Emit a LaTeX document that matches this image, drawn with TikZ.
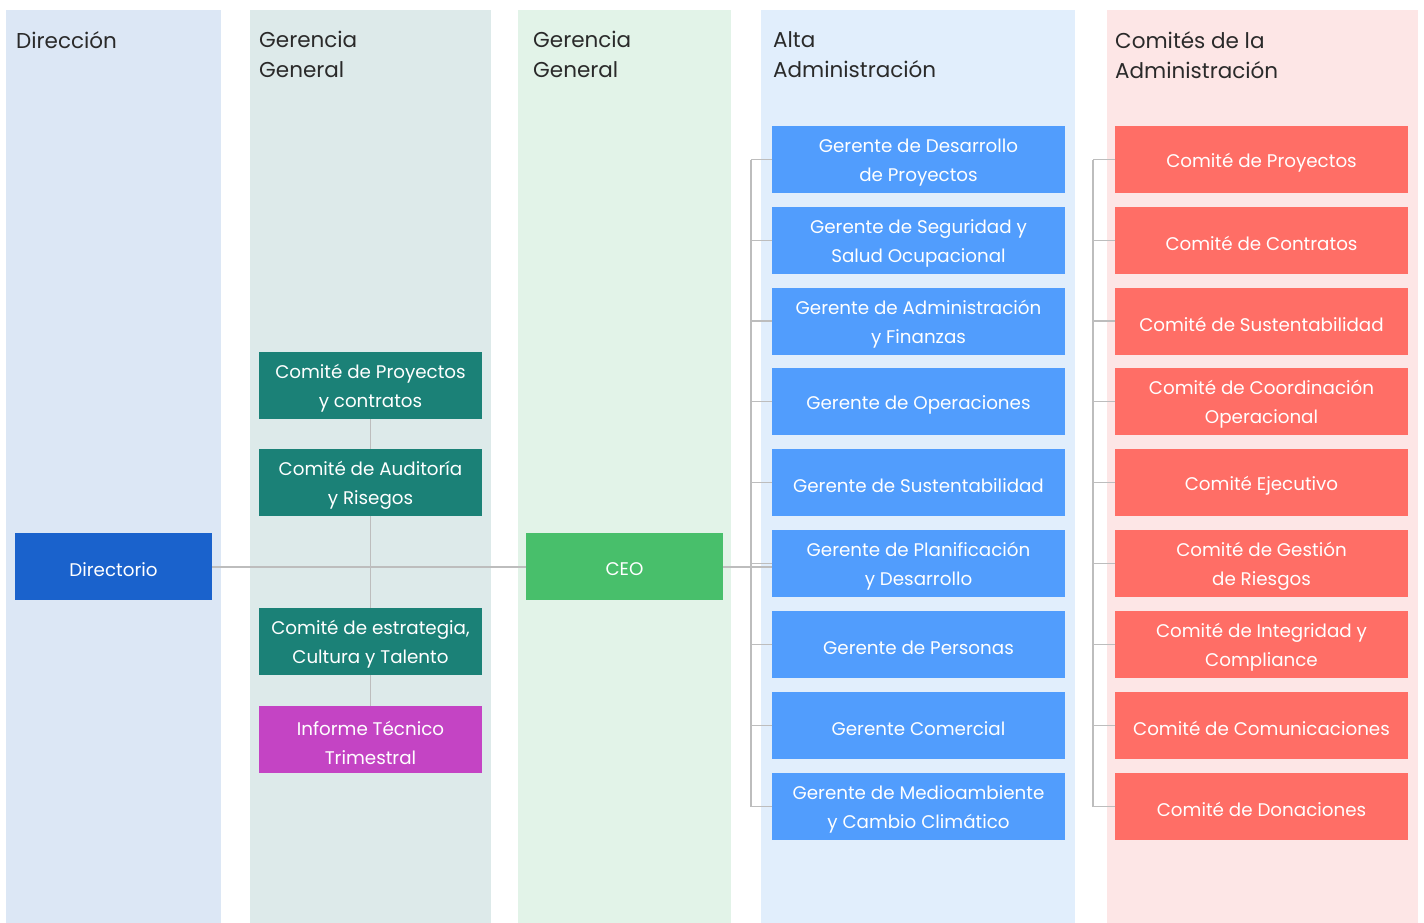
\documentclass[tikz,border=0pt]{standalone}
\usepackage{fontspec}
\setmainfont{Poppins}
\definecolor{bgA}{HTML}{DCE7F5}
\definecolor{bgB}{HTML}{DDEAEA}
\definecolor{bgC}{HTML}{E2F3E8}
\definecolor{bgD}{HTML}{E1EEFC}
\definecolor{bgE}{HTML}{FDE6E6}
\definecolor{cDir}{HTML}{1A62CC}
\definecolor{cTeal}{HTML}{1B8177}
\definecolor{cMag}{HTML}{C444C4}
\definecolor{cCeo}{HTML}{48BF6B}
\definecolor{cBlue}{HTML}{519DFD}
\definecolor{cRed}{HTML}{FF6E66}
\definecolor{cLine}{HTML}{BDBDBD}
\definecolor{cHead}{HTML}{2A2A2A}
\tikzset{
  box/.style={minimum width=#1, minimum height=67pt, inner sep=0pt},
  boxtext/.style={inner sep=0pt, text=white, align=center, font=\fontsize{18.3}{29}\selectfont},
  dirbox/.style={box=197pt, fill=cDir},
  tealbox/.style={box=223pt, fill=cTeal},
  magbox/.style={box=223pt, fill=cMag},
  ceobox/.style={box=197pt, fill=cCeo},
  bluebox/.style={box=293pt, fill=cBlue},
  redbox/.style={box=293pt, fill=cRed},
  head/.style={anchor=north west, align=left, inner sep=0pt, text=cHead,
    font=\fontsize{21.5}{30}\selectfont},
  conn/.style={draw=cLine, line width=1.3pt}
}
\newcommand\bx[4]{\node[#1] (#2) at (#3) {}; \node[boxtext] (#2t) at ([yshift=-3pt]#2.center) {#4};}
\begin{document}
\begin{tikzpicture}[x=1pt,y=-1pt]
\useasboundingbox (0,0) rectangle (1424,923);
% columns
\fill[bgA] (6,10) rectangle (221,923);
\fill[bgB] (250,10) rectangle (491,923);
\fill[bgC] (518,10) rectangle (731,923);
\fill[bgD] (761,10) rectangle (1075,923);
\fill[bgE] (1107,10) rectangle (1418,923);
% headers
\node[head] (h1) at (16,31) {Dirección};
\node[head] (h2) at (259,31) {Gerencia\\General};
\node[head] (h3) at (533,31) {Gerencia\\General};
\node[head] (h4) at (773,31) {Alta\\Administración};
\node[head] (h5) at (1115,31) {Comités de la\\Administración};
% bracket ends
\coordinate (bt) at (751,159.5);
\coordinate (bb) at (751,806.5);
\coordinate (rt) at (1093,159.5);
\coordinate (rb) at (1093,806.5);
% left nodes
\bx{dirbox}{dir}{113.5,566.5}{Directorio}
\bx{tealbox}{t1}{370.5,385.5}{Comité de Proyectos\\y contratos}
\bx{tealbox}{t2}{370.5,482.5}{Comité de Auditoría\\y Risegos}
\bx{tealbox}{t3}{370.5,641.5}{Comité de estrategia,\\Cultura y Talento}
\bx{magbox}{t4}{370.5,739.5}{Informe Técnico\\Trimestral}
\bx{ceobox}{ceo}{624.5,566.5}{CEO}
% blue
\bx{bluebox}{b1}{918.5,159.5}{Gerente de Desarrollo\\de Proyectos}
\bx{bluebox}{b2}{918.5,240.5}{Gerente de Seguridad y\\Salud Ocupacional}
\bx{bluebox}{b3}{918.5,321}{Gerente de Administración\\y Finanzas}
\bx{bluebox}{b4}{918.5,401.5}{Gerente de Operaciones}
\bx{bluebox}{b5}{918.5,482.5}{Gerente de Sustentabilidad}
\bx{bluebox}{b6}{918.5,563.5}{Gerente de Planificación\\y Desarrollo}
\bx{bluebox}{b7}{918.5,644.5}{Gerente de Personas}
\bx{bluebox}{b8}{918.5,725.5}{Gerente Comercial}
\bx{bluebox}{b9}{918.5,806.5}{Gerente de Medioambiente\\y Cambio Climático}
% red
\bx{redbox}{r1}{1261.5,159.5}{Comité de Proyectos}
\bx{redbox}{r2}{1261.5,240.5}{Comité de Contratos}
\bx{redbox}{r3}{1261.5,321}{Comité de Sustentabilidad}
\bx{redbox}{r4}{1261.5,401.5}{Comité de Coordinación\\Operacional}
\bx{redbox}{r5}{1261.5,482.5}{Comité Ejecutivo}
\bx{redbox}{r6}{1261.5,563.5}{Comité de Gestión\\de Riesgos}
\bx{redbox}{r7}{1261.5,644.5}{Comité de Integridad y\\Compliance}
\bx{redbox}{r8}{1261.5,725.5}{Comité de Comunicaciones}
\bx{redbox}{r9}{1261.5,806.5}{Comité de Donaciones}
% connectors
\draw[conn] (dir.east |- 0,567) -- (ceo.west |- 0,567);
\draw[conn] (t1.south) -- (t2.north);
\draw[conn] (t2.south) -- (t3.north);
\draw[conn] (t3.south) -- (t4.north);
\draw[conn] (ceo.east |- 0,567) -- (b6.west |- 0,567);
\draw[conn] (bt) -- (bb);
\foreach \i in {1,...,9} { \draw[conn] (bt |- b\i.west) -- (b\i.west); }
\draw[conn] (rt) -- (rb);
\foreach \i in {1,...,9} { \draw[conn] (rt |- r\i.west) -- (r\i.west); }
\end{tikzpicture}
\end{document}
